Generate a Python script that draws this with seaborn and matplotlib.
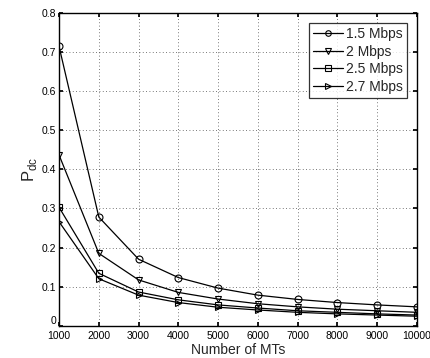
import matplotlib
matplotlib.use("Agg")
import matplotlib.pyplot as plt
import seaborn as sns
import pandas as pd

sns.set_theme(style="white")
plt.rcParams['font.family'] = ['Liberation Sans', 'DejaVu Sans']

mts = [1000, 2000, 3000, 4000, 5000, 6000, 7000, 8000, 9000, 10000]
p_15 = [0.715, 0.278, 0.170, 0.123, 0.096, 0.078, 0.067, 0.059, 0.053, 0.048]
p_20 = [0.437, 0.185, 0.117, 0.085, 0.068, 0.056, 0.048, 0.042, 0.038, 0.034]
p_25 = [0.303, 0.134, 0.086, 0.066, 0.053, 0.045, 0.038, 0.034, 0.030, 0.027]
p_27 = [0.266, 0.120, 0.078, 0.059, 0.047, 0.040, 0.034, 0.030, 0.027, 0.024]
labels = ["1.5 Mbps", "2 Mbps", "2.5 Mbps", "2.7 Mbps"]
markers = ["o", "v", "s", ">"]

rows = []
for lab, vals in zip(labels, [p_15, p_20, p_25, p_27]):
    for x, y in zip(mts, vals):
        rows.append({"MTs": x, "P": y, "Rate": lab})
df = pd.DataFrame(rows)

fig = plt.figure(figsize=(4.31, 3.58), dpi=100)
ax = fig.add_axes([0.137, 0.0905, 0.8305, 0.8725])

for lab, m in zip(labels, markers):
    sub = df[df["Rate"] == lab]
    sns.lineplot(data=sub, x="MTs", y="P", ax=ax, color="black", linewidth=0.9,
                 marker=m, markersize=5, markerfacecolor="none",
                 markeredgecolor="black", markeredgewidth=0.8, label=lab)

ax.set_xlim(1000, 10000)
ax.set_ylim(0, 0.8)
ax.set_xticks(mts)
ax.set_xticklabels([str(v) for v in mts])
ax.set_yticks([0, 0.1, 0.2, 0.3, 0.4, 0.5, 0.6, 0.7, 0.8])
ax.set_yticklabels(["0", "0.1", "0.2", "0.3", "0.4", "0.5", "0.6", "0.7", "0.8"])
ax.tick_params(direction="in", length=3, labelsize=7.5, colors="black",
               top=True, right=True, bottom=True, left=True)
ax.tick_params(axis="x", pad=4)
ax.tick_params(axis="y", pad=2)
ax.get_yticklabels()[0].set_va("bottom")
ax.grid(True, linestyle=(0, (1, 3)), color="black", linewidth=0.6, alpha=0.7)
for s in ax.spines.values():
    s.set_color("black")
    s.set_linewidth(1.0)
ax.set_xlabel("Number of MTs", fontsize=10, labelpad=1)
ax.set_ylabel(r"P$_{\mathregular{dc}}$", fontsize=12, labelpad=2)

leg = ax.legend(loc="upper right", fontsize=10, frameon=True, fancybox=False,
                edgecolor="black", borderpad=0.3, labelspacing=0.25,
                handlelength=2.2, handletextpad=0.2, borderaxespad=0.7)
leg.get_frame().set_linewidth(0.9)
for h in leg.get_lines():
    h.set_markersize(4)

fig.savefig("out.png", dpi=100)
